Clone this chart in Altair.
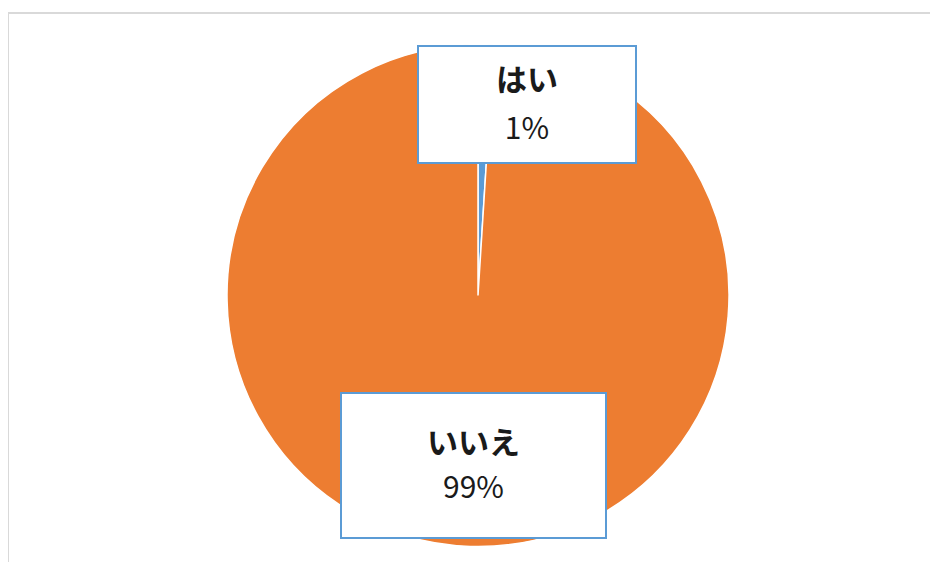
import altair as alt
import pandas as pd

# ---- data ----
categories = ["はい", "いいえ"]
shares = [1.0, 99.0]          # percent of answers
slice_colors = ["#5B9BD5", "#ED7D31"]

# ---- layout (label boxes, in view pixels) ----
box_x1 = [410, 333]
box_x2 = [628, 598]
box_y1 = [33, 380]
box_y2 = [150, 525]
name_y = [69, 432]
pct_y = [117, 476]

W, H = 922, 549
CX, CY, R = 470, 282.5, 251

df = pd.DataFrame({
    "cat": categories,
    "share": shares,
    "idx": list(range(len(categories))),
    "bx1": box_x1, "bx2": box_x2, "by1": box_y1, "by2": box_y2,
    "ny": name_y, "py": pct_y,
})
df["tx"] = (df["bx1"] + df["bx2"]) / 2

base = alt.Chart(df)

color = alt.Color("cat:N", scale=alt.Scale(domain=categories, range=slice_colors), legend=None)

pie = base.mark_arc(outerRadius=R, stroke="white", strokeWidth=1.5).encode(
    theta=alt.Theta("share:Q", stack=True),
    color=color,
    order=alt.Order("idx:Q"),
    x=alt.value(CX),
    y=alt.value(CY),
)

boxes = base.mark_rect(fill="white", stroke="#5B9BD5", strokeWidth=2).encode(
    x=alt.X("bx1:Q", scale=None),
    x2="bx2:Q",
    y=alt.Y("by1:Q", scale=None),
    y2="by2:Q",
)

names = base.mark_text(
    font="Noto Sans CJK JP", fontSize=31, fontWeight="bold", color="#1a1a1a", baseline="middle", align="center"
).encode(
    x=alt.X("tx:Q", scale=None),
    y=alt.Y("ny:Q", scale=None),
    text="cat:N",
)

pcts = base.transform_joinaggregate(total="sum(share)").transform_calculate(
    frac="datum.share / datum.total"
).mark_text(
    font="Noto Sans CJK JP", fontSize=30, color="#1a1a1a", baseline="middle", align="center"
).encode(
    x=alt.X("tx:Q", scale=None),
    y=alt.Y("py:Q", scale=None),
    text=alt.Text("frac:Q", format=".0%"),
)

top_border = alt.Chart(df).mark_rule(color="#D9D9D9", strokeWidth=2).encode(
    x=alt.value(0), x2=alt.value(W), y=alt.value(0)
)
left_border = alt.Chart(df).mark_rule(color="#D9D9D9", strokeWidth=2).encode(
    x=alt.value(0), y=alt.value(0), y2=alt.value(H)
)

chart = alt.layer(top_border, left_border, pie, boxes, names, pcts).properties(
    width=W,
    height=H,
    autosize=alt.AutoSizeParams(type="none"),
    padding={"top": 5, "left": 0, "right": 0, "bottom": 0},
    background="white",
).configure_view(stroke=None)

chart.save("out.html", embed_options={"renderer": "svg", "actions": False})
